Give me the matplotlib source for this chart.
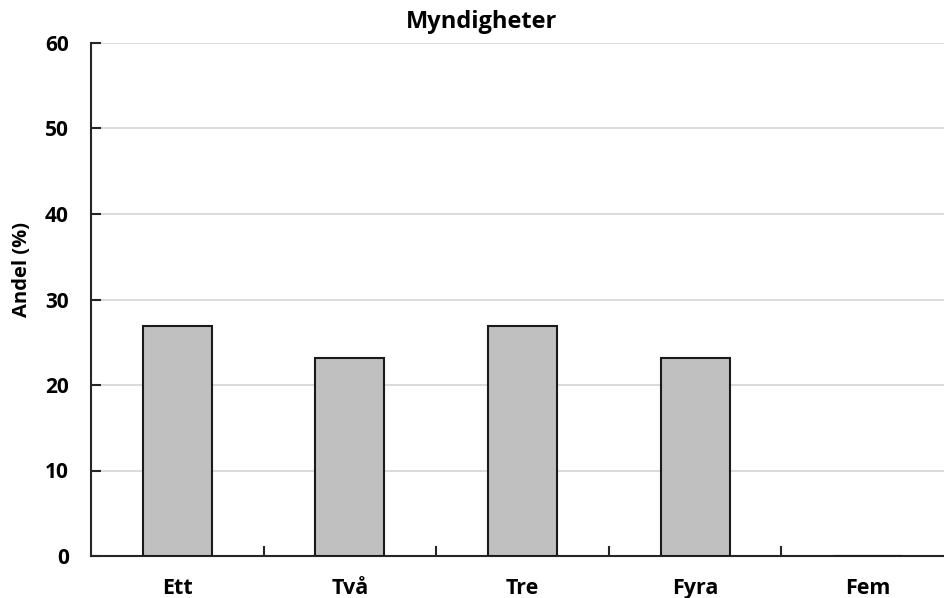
import matplotlib
matplotlib.use('Agg')
import matplotlib.pyplot as plt

categories = ['Ett', 'Två', 'Tre', 'Fyra', 'Fem']
andel = [26.9, 23.1, 26.9, 23.1, 0]
yticks = [0, 10, 20, 30, 40, 50, 60]

plt.rcParams['font.family'] = ['Open Sans', 'DejaVu Sans']
plt.rcParams['font.weight'] = 'bold'

fig = plt.figure(figsize=(9.44, 5.98), dpi=100)
# plot area runs a little past the right edge, as in the original
ax = fig.add_axes([91/944, 1-556/598, (954-91)/944, (556-43)/598])

x = range(len(categories))
ax.bar(x, andel, width=0.4, color='#c0c0c0', edgecolor='#1a1a1a', linewidth=1.5, zorder=3)

ax.set_xlim(-0.5, len(categories)-0.5)
ax.set_ylim(0, 60)
ax.set_yticks(yticks)
ax.set_yticklabels([str(v) for v in yticks])
ax.yaxis.grid(True, color='#d4d4d4', linewidth=1.2, zorder=0)

# category labels centred, tick marks at the boundaries
ax.set_xticks(list(x))
ax.set_xticklabels(categories)
ax.set_xticks([i + 0.5 for i in range(len(categories)-1)], minor=True)
ax.tick_params(axis='x', which='major', length=0, pad=16, labelsize=15.5)
ax.tick_params(axis='x', which='minor', direction='in', length=7, width=1.5, color='#262626')
ax.tick_params(axis='y', direction='in', length=7, width=1.5, color='#262626', pad=16, labelsize=15)

for s in ['top', 'right']:
    ax.spines[s].set_visible(False)
for s in ['left', 'bottom']:
    ax.spines[s].set_linewidth(1.5)
    ax.spines[s].set_color('#262626')

fig.text(482/944, 1-22/598, 'Myndigheter', ha='center', va='center', fontsize=17, fontweight='bold')
fig.text(22/944, 1-270/598, 'Andel (%)', ha='center', va='center', rotation=90, fontsize=14.5, fontweight='bold')

fig.savefig('out.png', dpi=100)
